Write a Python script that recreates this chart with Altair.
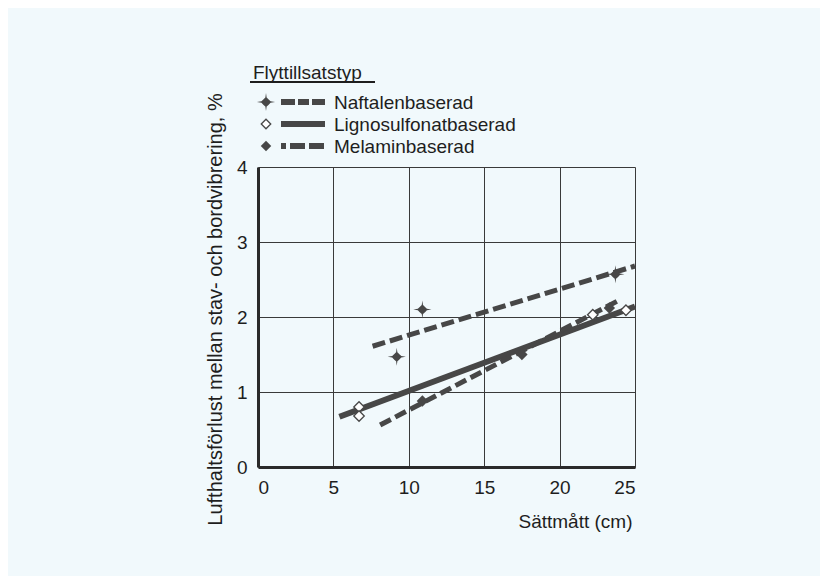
import altair as alt
import pandas as pd

# ---- data ----
naf_pts_x = [9.2, 10.9, 23.7]
naf_pts_y = [1.47, 2.10, 2.57]
naf_line_x = [7.6, 25.0]
naf_line_y = [1.61, 2.68]

lig_pts_x = [6.7, 6.7, 22.2, 24.4]
lig_pts_y = [0.80, 0.68, 2.03, 2.09]
lig_line_x = [5.4, 25.0]
lig_line_y = [0.67, 2.14]

mel_pts_x = [10.9, 17.5, 23.3]
mel_pts_y = [0.88, 1.50, 2.12]
mel_line_x = [8.1, 24.0]
mel_line_y = [0.56, 2.23]

series_names = ["Naftalenbaserad", "Lignosulfonatbaserad", "Melaminbaserad"]
legend_title = "Flyttillsatstyp"
x_ticks = [0, 5, 10, 15, 20, 25]
y_ticks = [0, 1, 2, 3, 4]

FONT = "Liberation Sans"
INK = "#474747"
TXT = "#1e1e1e"
BG = "#f1f9fc"
STAR = ("M0,-1L0.07,-0.5Q0.3,-0.3 0.5,-0.07L1,0L0.5,0.07Q0.3,0.3 0.07,0.5"
        "L0,1L-0.07,0.5Q-0.3,0.3 -0.5,0.07L-1,0L-0.5,-0.07Q-0.3,-0.3 -0.07,-0.5Z")

xs = alt.Scale(domain=[0, 25], nice=False)
ys = alt.Scale(domain=[0, 4], nice=False)

def df(x, y):
    return pd.DataFrame({"x": x, "y": y})

xenc = alt.X("x:Q", scale=xs, axis=alt.Axis(
    values=x_ticks, title="Sättmått (cm)", titleX=374, titleY=60, titleAlign="right",
    titleBaseline="alphabetic", format="d"))
yenc = alt.Y("y:Q", scale=ys, axis=alt.Axis(
    values=y_ticks, title="Lufthaltsförlust mellan stav- och bordvibrering, %",
    titleX=-37, titleY=142, titleAngle=-90, titleAlign="center",
    titleBaseline="alphabetic", format="d", titleFontSize=20))

naf_line = alt.Chart(df(naf_line_x, naf_line_y)).mark_line(
    color=INK, strokeWidth=5, strokeDash=[13, 5]).encode(x=xenc, y=yenc)
lig_line = alt.Chart(df(lig_line_x, lig_line_y)).mark_line(
    color=INK, strokeWidth=6).encode(x="x:Q", y="y:Q")
mel_line = alt.Chart(df(mel_line_x, mel_line_y)).mark_line(
    color=INK, strokeWidth=5, strokeDash=[12, 5]).encode(x="x:Q", y="y:Q")

naf_pts = alt.Chart(df(naf_pts_x, naf_pts_y)).mark_point(
    shape=STAR, filled=True, color=INK, size=330, opacity=1).encode(x="x:Q", y="y:Q")
lig_pts = alt.Chart(df(lig_pts_x, lig_pts_y)).mark_point(
    shape="diamond", filled=True, fill="white", stroke=INK, strokeWidth=1.3,
    size=110, opacity=1).encode(x="x:Q", y="y:Q")
mel_pts = alt.Chart(df(mel_pts_x, mel_pts_y)).mark_point(
    shape="diamond", filled=True, color=INK, size=130, opacity=1).encode(x="x:Q", y="y:Q")

# ---- hand-drawn legend above the plot ----
one = pd.DataFrame({"a": [0]})
rows_y = [-65, -43, -21]
dashes = [[14, 3, 11, 3, 13, 3], None, [5, 4, 15, 4, 15, 4]]
sym = [dict(shape=STAR, filled=True, color=INK, size=330),
       dict(shape="diamond", filled=True, fill="white", stroke=INK, strokeWidth=1.3, size=90),
       dict(shape="diamond", filled=True, color=INK, size=110)]
legend_layers = []
for name, yy, dsh, sy in zip(series_names, rows_y, dashes, sym):
    kw = dict(color=INK, strokeWidth=6)
    if dsh:
        kw["strokeDash"] = dsh
    legend_layers.append(alt.Chart(one).mark_rule(**kw).encode(
        x=alt.value(23), x2=alt.value(67), y=alt.value(yy)))
    legend_layers.append(alt.Chart(one).mark_point(opacity=1, **sy).encode(
        x=alt.value(8), y=alt.value(yy)))
    legend_layers.append(alt.Chart(one).mark_text(
        align="left", baseline="middle", font=FONT, fontSize=19, color=TXT).encode(
        x=alt.value(76), y=alt.value(yy + 1), text=alt.value(name)))

legend_layers.append(alt.Chart(one).mark_text(
    align="left", baseline="alphabetic", font=FONT, fontSize=19, color=TXT).encode(
    x=alt.value(-5), y=alt.value(-88), text=alt.value(legend_title)))
legend_layers.append(alt.Chart(one).mark_rule(color=TXT, strokeWidth=2).encode(
    x=alt.value(-8), x2=alt.value(117), y=alt.value(-85)))

chart = alt.layer(
    naf_line, lig_line, mel_line, naf_pts, lig_pts, mel_pts, *legend_layers
).properties(
    width=377, height=300,
    autosize=alt.AutoSizeParams(type="none"),
    padding={"left": 250, "top": 159, "right": 185, "bottom": 109},
    background=BG,
).configure_view(
    fill=BG, stroke=None
).configure_axis(
    domainColor="#2a2a2a", domainWidth=3, grid=True, gridColor="#3a3a3a",
    gridWidth=1, gridOpacity=1, ticks=False, labelFont=FONT, labelFontSize=19,
    labelColor=TXT, labelPadding=11, titleFont=FONT, titleFontSize=19,
    titleFontWeight="normal", titleColor=TXT
)

chart.save("out.html", embed_options={"renderer": "svg", "actions": False})
